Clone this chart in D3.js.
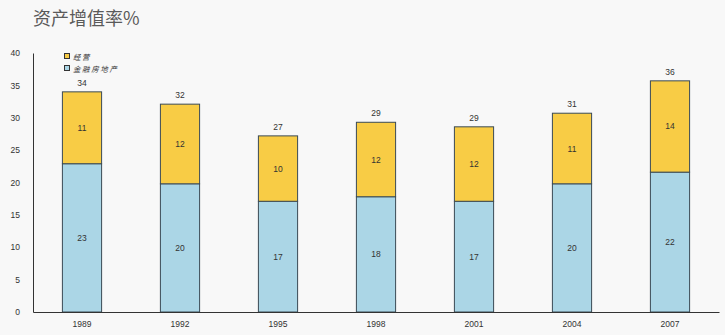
<!DOCTYPE html>
<html><head><meta charset="utf-8">
<script src="https://cdn.jsdelivr.net/npm/d3@7"></script>
<style>body{margin:0;background:#f8f8f8;}svg{display:block;}</style>
</head><body>
<svg id="c" width="725" height="335"></svg>
<script>
const categories = ["1989","1992","1995","1998","2001","2004","2007"];
const finance = [22.9, 19.8, 17.1, 17.8, 17.1, 19.8, 21.6];   // 金融房地产
const operating = [11.1, 12.3, 10.1, 11.5, 11.5, 10.9, 14.1]; // 经营
const seriesNames = ["金融房地产", "经营"];
const yTicks = [0,5,10,15,20,25,30,35,40];
const colors = {"金融房地产":"#abd6e6", "经营":"#f8cc45"};

const svg = d3.select("#c");
const m = {l:33};
const x = d3.scaleBand().domain(categories).range([m.l, 719]).paddingInner(0.6).paddingOuter(0.3);
const y = d3.scaleLinear().domain([0,40]).range([312, 53]);

const rows = categories.map((c,i)=>({cat:c, "金融房地产":finance[i], "经营":operating[i]}));
const stack = d3.stack().keys(seriesNames)(rows);

svg.append("text").attr("x",33).attr("y",25).text("资产增值率%")
  .attr("font-family","'Noto Sans CJK SC', serif").attr("font-size",18).attr("fill","#5a5a5a");

const yAxis = svg.append("g").attr("transform",`translate(${m.l},0)`)
  .call(d3.axisLeft(y).tickValues(yTicks).tickSize(0).tickPadding(13));
yAxis.select(".domain").attr("stroke","#333");
yAxis.selectAll("text").attr("font-family","Liberation Sans, Arial").attr("font-size",8.5).attr("fill","#333");

stack.forEach(s=>{
  svg.append("g").selectAll("rect").data(s).join("rect")
    .attr("x",d=>x(d.data.cat)).attr("width",x.bandwidth())
    .attr("y",d=>y(d[1])).attr("height",d=>y(d[0])-y(d[1]))
    .attr("fill",colors[s.key]).attr("stroke","#3a4a55").attr("stroke-width",1);
  svg.append("g").selectAll("text").data(s).join("text")
    .attr("x",d=>x(d.data.cat)+x.bandwidth()/2).attr("y",d=>(y(d[0])+y(d[1]))/2+3)
    .attr("text-anchor","middle").attr("font-family","Liberation Sans, Arial").attr("font-size",8.5)
    .attr("fill","#333").text(d=>Math.round(d[1]-d[0]));
});
svg.append("g").selectAll("text").data(rows).join("text")
  .attr("x",d=>x(d.cat)+x.bandwidth()/2).attr("y",d=>y(d["金融房地产"]+d["经营"])-6)
  .attr("text-anchor","middle").attr("font-family","Liberation Sans, Arial").attr("font-size",8.5)
  .attr("fill","#333").text(d=>Math.round(d["金融房地产"]+d["经营"]));

const xAxis = svg.append("g").attr("transform",`translate(0,312)`)
  .call(d3.axisBottom(x).tickSize(0).tickPadding(9));
xAxis.select(".domain").attr("stroke","#333");
xAxis.selectAll("text").attr("font-family","Liberation Sans, Arial").attr("font-size",8.5).attr("fill","#333");

const leg = [["经营",colors["经营"]],["金融房地产",colors["金融房地产"]]];
leg.forEach((l,i)=>{
  svg.append("rect").attr("x",64.5).attr("y",53.5+i*12).attr("width",5).attr("height",5)
    .attr("fill",l[1]).attr("stroke","#333").attr("stroke-width",1);
  svg.append("text").attr("x",73).attr("y",59.5+i*12).text(l[0])
    .attr("font-family","'Noto Sans CJK SC'").attr("font-style","italic").attr("font-size",7.5)
    .attr("letter-spacing",1.6).attr("fill","#333");
});
</script>
</body></html>
